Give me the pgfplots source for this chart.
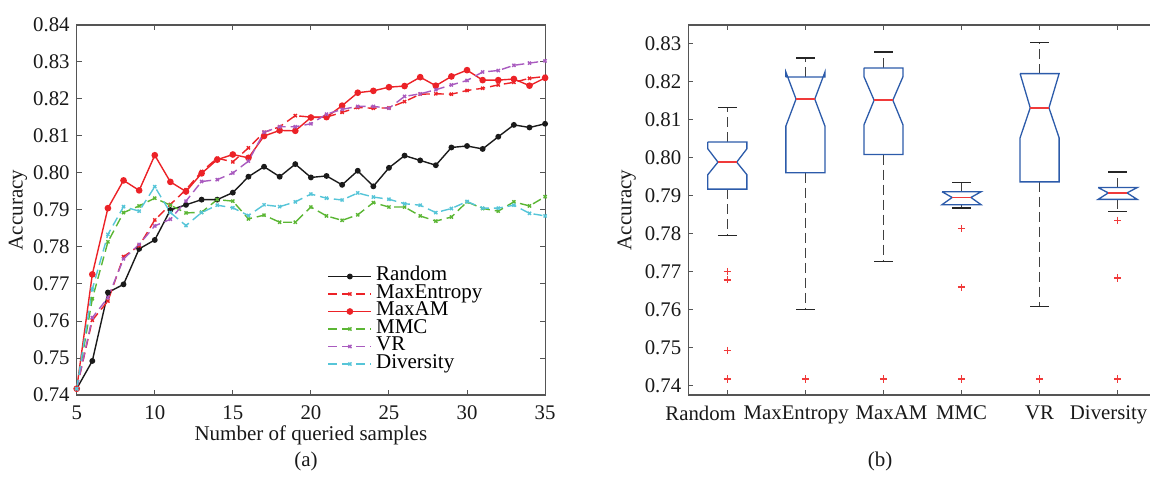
\documentclass[border=0pt]{standalone}
\usepackage{fontspec}
\setmainfont{Liberation Serif}
\usepackage{pgfplots}
\usepackage{pgfplotstable}
\pgfplotsset{compat=1.18}

\definecolor{cRandom}{HTML}{1A1A1A}
\definecolor{cRed}{HTML}{EC2227}
\definecolor{cMMC}{HTML}{5BB634}
\definecolor{cVR}{HTML}{A95BBF}
\definecolor{cDiv}{HTML}{56C5D8}
\definecolor{cBox}{HTML}{2C5BAA}
\definecolor{cMed}{HTML}{F03A3A}
\definecolor{cAx}{HTML}{555555}

\pgfplotstableread{
x  random maxent maxam  mmc    vr     div
5  0.7417 0.7417 0.7417 0.7417 0.7417 0.7417
6  0.7492 0.7602 0.7726 0.7660 0.7609 0.7686
7  0.7677 0.7654 0.7905 0.7814 0.7663 0.7834
8  0.7699 0.7774 0.7980 0.7893 0.7768 0.7909
9  0.7795 0.7803 0.7953 0.7911 0.7807 0.7897
10 0.7819 0.7873 0.8048 0.7932 0.7857 0.7963
11 0.7900 0.7915 0.7976 0.7913 0.7875 0.7893
12 0.7914 0.7955 0.7950 0.7892 0.7924 0.7858
13 0.7928 0.8004 0.7999 0.7894 0.7977 0.7893
14 0.7928 0.8040 0.8036 0.7928 0.7982 0.7913
15 0.7947 0.8030 0.8050 0.7924 0.8000 0.7906
16 0.7990 0.8068 0.8041 0.7876 0.8032 0.7885
17 0.8017 0.8110 0.8100 0.7886 0.8110 0.7914
18 0.7990 0.8125 0.8115 0.7867 0.8125 0.7909
19 0.8024 0.8155 0.8114 0.7867 0.8125 0.7922
20 0.7988 0.8151 0.8150 0.7908 0.8133 0.7943
21 0.7992 0.8151 0.8151 0.7884 0.8159 0.7932
22 0.7968 0.8164 0.8182 0.7872 0.8172 0.7927
23 0.8006 0.8177 0.8217 0.7887 0.8180 0.7946
24 0.7964 0.8175 0.8222 0.7920 0.8180 0.7935
25 0.8014 0.8176 0.8232 0.7908 0.8175 0.7929
26 0.8047 0.8193 0.8235 0.7908 0.8207 0.7917
27 0.8034 0.8213 0.8259 0.7884 0.8214 0.7913
28 0.8021 0.8214 0.8236 0.7870 0.8225 0.7893
29 0.8069 0.8213 0.8261 0.7881 0.8238 0.7904
30 0.8073 0.8223 0.8278 0.7922 0.8250 0.7923
31 0.8065 0.8229 0.8251 0.7904 0.8273 0.7905
32 0.8098 0.8238 0.8251 0.7897 0.8277 0.7905
33 0.8130 0.8245 0.8254 0.7922 0.8291 0.7913
34 0.8123 0.8256 0.8236 0.7911 0.8297 0.7891
35 0.8133 0.8261 0.8257 0.7936 0.8303 0.7884
}\curves

\pgfplotsset{
  myaxis/.style={
    scale only axis, width=234.2pt, height=185pt,
    axis line style={cAx, line width=0.6pt},
    every tick/.style={cAx, line width=0.5pt},
    major tick length=2.5pt,
    tick align=inside,
    tick label style={font=\fontsize{10.4}{12}\selectfont, text=black!90},
    label style={font=\fontsize{10.5}{12}\selectfont, text=black!90},
    /pgf/number format/assume math mode=true,
    y tick label style={/pgf/number format/fixed, /pgf/number format/fixed zerofill, /pgf/number format/precision=2},
    xticklabel style={yshift=-2pt},
  },
  dsh/.style={dash pattern=on 4.5pt off 2.5pt},
  leg/.style={legend image code/.code={\draw[mark repeat=2,mark phase=2] plot coordinates {(0pt,0pt) (10.75pt,0pt) (21.5pt,0pt)};}},
  wh/.style={black!75, line width=0.6pt, dash pattern=on 5pt off 2.5pt},
  cap/.style={black!85, line width=0.6pt},
  bx/.style={cBox, line width=0.65pt, fill=white},
  md/.style={cMed, line width=0.75pt},
}

\begin{document}
\begin{tikzpicture}
\path[use as bounding box] (0,0) rectangle (575pt,-240pt);

\begin{axis}[myaxis, at={(38.35pt,-197.5pt)}, anchor=south west,
  xmin=5, xmax=35, ymin=0.74, ymax=0.84,
  xtick={5,10,15,20,25,30,35},
  ytick={0.74,0.75,0.76,0.77,0.78,0.79,0.80,0.81,0.82,0.83,0.84},
  xlabel={Number of queried samples}, ylabel={Accuracy},
  xlabel style={at={(axis description cs:0.5,-0.108)}, anchor=center},
  ylabel style={at={(axis description cs:-0.1253,0.5)}, anchor=center},
  legend style={at={(rel axis cs:0.535,0.345)}, anchor=north west, draw=none, fill=none,
    font=\fontsize{10.5}{12}\selectfont, inner sep=0pt, row sep=0pt,
    nodes={inner sep=0pt, text height=6.6pt, text depth=2.15pt},
    /tikz/every odd column/.append style={column sep=2pt}},
  legend cell align=left, leg,
]
\addplot[cRandom, line width=0.7pt, mark=*, mark size=1.1pt] table[x=x,y=random]{\curves};
\addlegendentry{Random}
\addplot[cRed, line width=0.7pt, dsh, mark=x, mark size=1.1pt, mark options={solid}] table[x=x,y=maxent]{\curves};
\addlegendentry{MaxEntropy}
\addplot[cRed, line width=0.7pt, mark=*, mark size=1.3pt] table[x=x,y=maxam]{\curves};
\addlegendentry{MaxAM}
\addplot[cMMC, line width=0.7pt, dsh, mark=x, mark size=1.1pt, mark options={solid}] table[x=x,y=mmc]{\curves};
\addlegendentry{MMC}
\addplot[cVR, line width=0.7pt, dsh, mark=x, mark size=1.1pt, mark options={solid}] table[x=x,y=vr]{\curves};
\addlegendentry{VR}
\addplot[cDiv, line width=0.7pt, dsh, mark=x, mark size=1.1pt, mark options={solid}] table[x=x,y=div]{\curves};
\addlegendentry{Diversity}
\end{axis}

\begin{axis}[myaxis, at={(344.15pt,-197.5pt)}, anchor=south west,
  xmin=0.5, xmax=6.5, ymin=0.7376, ymax=0.835,
  xtick={1,2,3,4,5,6},
  xticklabels={Random\kern26.7pt, MaxEntropy\kern9.2pt, \kern8pt MaxAM, MMC, VR, Diversity\kern9pt},
  ytick={0.74,0.75,0.76,0.77,0.78,0.79,0.80,0.81,0.82,0.83},
  ylabel={Accuracy},
  ylabel style={at={(axis description cs:-0.1314,0.5)}, anchor=center},
]
% whiskers (dashed)
\addplot[wh] coordinates {(1,0.8042) (1,0.8133)};
\addplot[wh] coordinates {(1,0.7918) (1,0.7796)};
\addplot[wh] coordinates {(2,0.8213) (2,0.8263)};
\addplot[wh] coordinates {(2,0.7961) (2,0.7602)};
\addplot[wh] coordinates {(3,0.8237) (3,0.8279)};
\addplot[wh] coordinates {(3,0.8009) (3,0.7727)};
\addplot[wh] coordinates {(4,0.7911) (4,0.7936)};
\addplot[wh] coordinates {(4,0.7877) (4,0.7868)};
\addplot[wh] coordinates {(5,0.8222) (5,0.8304)};
\addplot[wh] coordinates {(5,0.7937) (5,0.7609)};
\addplot[wh] coordinates {(6,0.7922) (6,0.7963)};
\addplot[wh] coordinates {(6,0.7891) (6,0.7859)};
% caps
\addplot[cap] coordinates {(0.88,0.8133) (1.12,0.8133)};
\addplot[cap] coordinates {(0.88,0.7796) (1.12,0.7796)};
\addplot[cap] coordinates {(1.88,0.8263) (2.12,0.8263)};
\addplot[cap] coordinates {(1.88,0.7602) (2.12,0.7602)};
\addplot[cap] coordinates {(2.88,0.8279) (3.12,0.8279)};
\addplot[cap] coordinates {(2.88,0.7727) (3.12,0.7727)};
\addplot[cap] coordinates {(3.88,0.7936) (4.12,0.7936)};
\addplot[cap] coordinates {(3.88,0.7868) (4.12,0.7868)};
\addplot[cap] coordinates {(4.88,0.8304) (5.12,0.8304)};
\addplot[cap] coordinates {(4.88,0.7609) (5.12,0.7609)};
\addplot[cap] coordinates {(5.88,0.7963) (6.12,0.7963)};
\addplot[cap] coordinates {(5.88,0.7859) (6.12,0.7859)};
% notched boxes
\addplot[bx] coordinates {(0.75,0.8042) (0.75,0.8024) (0.88,0.7989) (0.75,0.7956) (0.75,0.7918) (1.25,0.7918) (1.25,0.7956) (1.12,0.7989) (1.25,0.8024) (1.25,0.8042) (0.75,0.8042)};
\addplot[bx] coordinates {(1.75,0.8213) (1.75,0.8226) (1.88,0.8155) (1.75,0.8084) (1.75,0.7961) (2.25,0.7961) (2.25,0.8084) (2.12,0.8155) (2.25,0.8226) (2.25,0.8213) (1.75,0.8213)};
\addplot[bx] coordinates {(2.75,0.8237) (2.75,0.8214) (2.88,0.8152) (2.75,0.8087) (2.75,0.8009) (3.25,0.8009) (3.25,0.8087) (3.12,0.8152) (3.25,0.8214) (3.25,0.8237) (2.75,0.8237)};
\addplot[bx] coordinates {(3.75,0.7911) (3.88,0.7896) (3.75,0.7877) (4.25,0.7877) (4.12,0.7896) (4.25,0.7911) (3.75,0.7911)};
\addplot[bx] coordinates {(4.75,0.8222) (4.88,0.8132) (4.75,0.8053) (4.75,0.7937) (5.25,0.7937) (5.25,0.8053) (5.12,0.8132) (5.25,0.8222) (4.75,0.8222)};
\addplot[bx] coordinates {(5.75,0.7922) (5.88,0.7908) (5.75,0.7891) (6.25,0.7891) (6.12,0.7908) (6.25,0.7922) (5.75,0.7922)};
% medians
\addplot[md] coordinates {(0.88,0.7989) (1.12,0.7989)};
\addplot[md] coordinates {(1.88,0.8155) (2.12,0.8155)};
\addplot[md] coordinates {(2.88,0.8152) (3.12,0.8152)};
\addplot[md] coordinates {(3.88,0.7896) (4.12,0.7896)};
\addplot[md] coordinates {(4.88,0.8132) (5.12,0.8132)};
\addplot[md] coordinates {(5.88,0.7908) (6.12,0.7908)};
% outliers
\addplot[only marks, mark=+, mark size=1.8pt, color=cMed, mark options={draw=cMed, line width=0.7pt}] coordinates {
 (1,0.7701) (1,0.7679) (1,0.7493) (1,0.7418)
 (2,0.7418) (3,0.7418)
 (4,0.7814) (4,0.7660) (4,0.7418)
 (5,0.7418)
 (6,0.7836) (6,0.7684) (6,0.7418)};
\end{axis}

\node[font=\fontsize{10.5}{12}\selectfont, text=black!90] at (153pt,-230.8pt) {(a)};
\node[font=\fontsize{10.5}{12}\selectfont, text=black!90] at (440pt,-230.8pt) {(b)};
\end{tikzpicture}
\end{document}
